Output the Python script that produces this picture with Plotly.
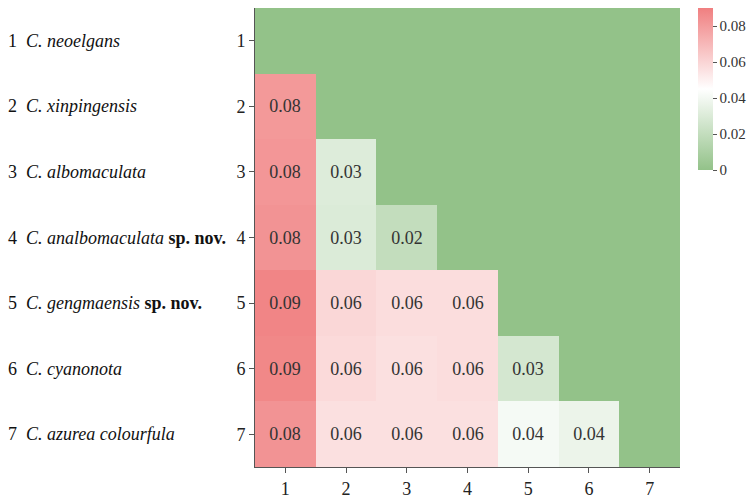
import plotly.graph_objects as go

idx = [1, 2, 3, 4, 5, 6, 7]
species = ["neoelgans", "xinpingensis", "albomaculata", "analbomaculata",
           "gengmaensis", "cyanonota", "azurea colourfula"]
new_sp = [False, False, False, True, True, False, False]

# lower-triangle distances (row i, columns 1..i-1); upper triangle & diagonal = 0
dist = [
    [],
    [0.081],
    [0.082, 0.031],
    [0.083, 0.030, 0.020],
    [0.088, 0.059, 0.057, 0.057],
    [0.087, 0.058, 0.056, 0.057, 0.027],
    [0.083, 0.056, 0.056, 0.056, 0.041, 0.037],
]

z, txt = [], []
for r in dist:
    row = list(r) + [0.0] * (7 - len(r))
    z.append(row)
    txt.append([f"{v:.2f}" for v in r] + [""] * (7 - len(r)))

colorscale = [[0.0, "#93C289"], [0.5, "#FFFFFF"], [1.0, "#F07F80"]]
FONT = "Liberation Serif"

fig = go.Figure(go.Heatmap(
    x=idx, y=idx, z=z, text=txt, texttemplate="%{text}",
    textfont=dict(family=FONT, size=18, color="#333333"),
    colorscale=colorscale, zmin=0, zmax=0.09, xgap=0, ygap=0,
    colorbar=dict(
        x=1.042, xanchor="left", xpad=0, y=1, yanchor="top", ypad=0,
        len=162, lenmode="pixels", thickness=15, outlinewidth=0,
        tickvals=[0, 0.02, 0.04, 0.06, 0.08],
        ticktext=["0", "0.02", "0.04", "0.06", "0.08"],
        ticks="outside", ticklen=4, tickcolor="#555555",
        tickfont=dict(family=FONT, size=15, color="#333333"),
    ),
    hoverinfo="skip",
))

for i, name, nov in zip(idx, species, new_sp):
    label = f"{i}&nbsp;&nbsp;<i>C. {name}</i>" + (" <b>sp. nov.</b>" if nov else "")
    fig.add_annotation(
        x=(6 - 255) / 425, xref="paper", xanchor="left",
        y=i, yref="y", yanchor="middle", showarrow=False,
        text=label, font=dict(family=FONT, size=18, color="#111111"),
    )

axis_common = dict(
    showgrid=False, zeroline=False, showline=True, linecolor="#555555", linewidth=1,
    ticks="outside", ticklen=5, tickcolor="#555555",
    tickfont=dict(family=FONT, size=18, color="#222222"),
    tickvals=idx, ticktext=[str(i) for i in idx],
)
fig.update_xaxes(**axis_common, range=[0.5, 7.5])
fig.update_yaxes(**axis_common, range=[7.5, 0.5])

fig.update_layout(
    width=747, height=499,
    margin=dict(l=255, r=67, t=8, b=32, autoexpand=False),
    plot_bgcolor="white", paper_bgcolor="white",
    font=dict(family=FONT, color="#333333"),
)

fig.write_html("out.html")
